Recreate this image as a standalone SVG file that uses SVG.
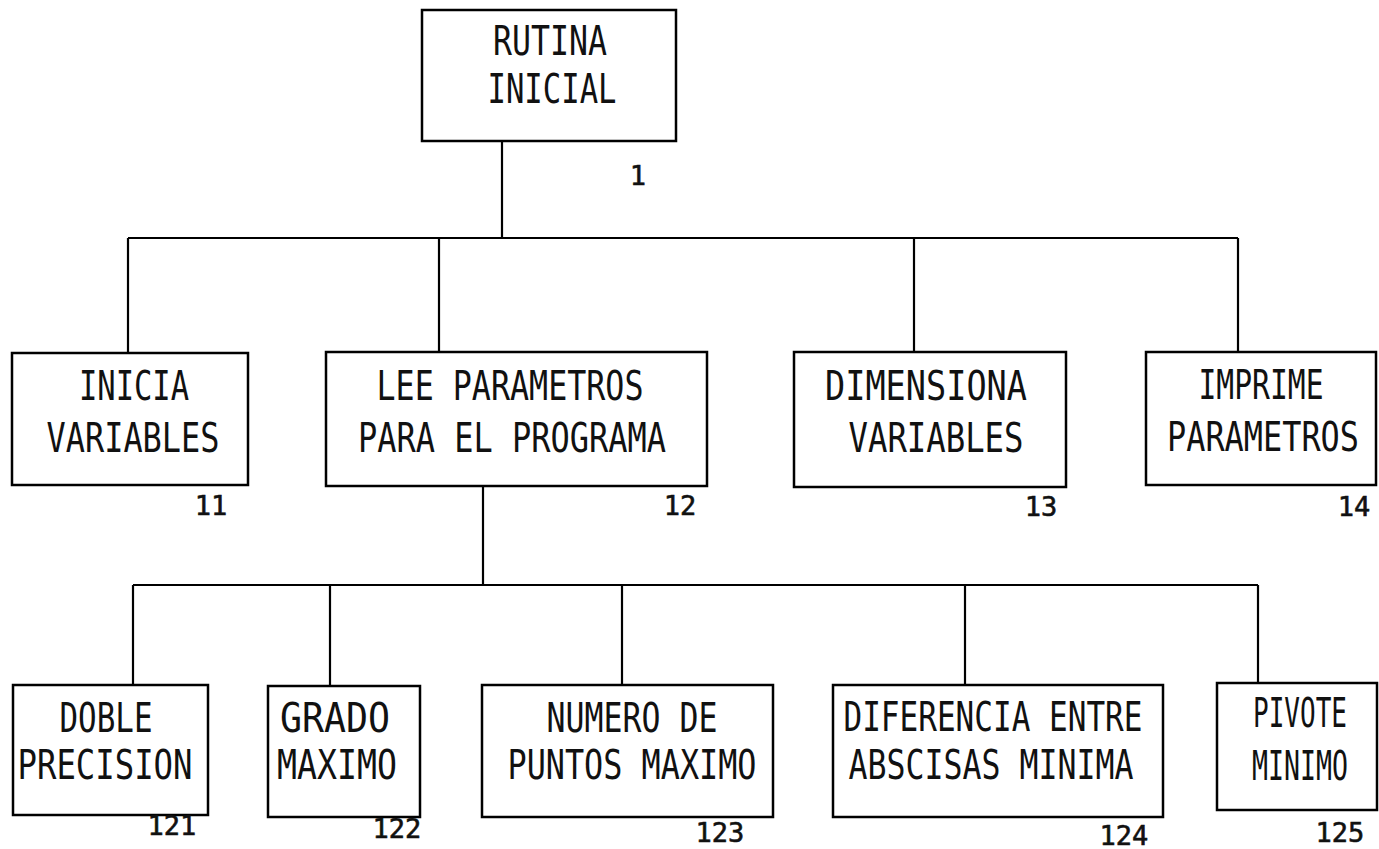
<svg xmlns="http://www.w3.org/2000/svg" width="1379" height="849" viewBox="0 0 1379 849">
<style>
.box{fill:none;stroke:#000;stroke-width:2.5}
.con line{stroke:#000;stroke-width:2.2}
.t{font-family:"DejaVu Sans Mono","Liberation Mono",monospace;font-size:41px;fill:#111;text-anchor:middle}
.n{font-family:"DejaVu Sans Mono","Liberation Mono",monospace;font-size:27px;fill:#111;stroke:#111;stroke-width:0.6;text-anchor:middle}
</style>
<rect width="1379" height="849" fill="#fff"/>
<g class="con" id="connectors">
<line x1="502" y1="141" x2="502" y2="238"/>
<line x1="128" y1="238" x2="1238" y2="238"/>
<line x1="128" y1="238" x2="128" y2="353"/>
<line x1="439" y1="238" x2="439" y2="352"/>
<line x1="914" y1="238" x2="914" y2="352"/>
<line x1="1238" y1="238" x2="1238" y2="352"/>
<line x1="483" y1="486" x2="483" y2="585"/>
<line x1="133" y1="585" x2="1258" y2="585"/>
<line x1="133" y1="585" x2="133" y2="685"/>
<line x1="330" y1="585" x2="330" y2="686"/>
<line x1="622" y1="585" x2="622" y2="685"/>
<line x1="965" y1="585" x2="965" y2="685"/>
<line x1="1258" y1="585" x2="1258" y2="683"/>
</g>
<g id="n1">
<rect class="box" x="422" y="10" width="254" height="131"/>
<text class="t" x="550" y="55" textLength="114" lengthAdjust="spacingAndGlyphs">RUTINA</text>
<text class="t" x="552" y="103" textLength="129" lengthAdjust="spacingAndGlyphs">INICIAL</text>
<text class="n" x="638" y="185">1</text>
</g>
<g id="n11">
<rect class="box" x="12" y="353" width="236" height="132"/>
<text class="t" x="134" y="400" textLength="110" lengthAdjust="spacingAndGlyphs">INICIA</text>
<text class="t" x="133" y="452" textLength="173" lengthAdjust="spacingAndGlyphs">VARIABLES</text>
<text class="n" x="211" y="515">11</text>
</g>
<g id="n12">
<rect class="box" x="326" y="352" width="381" height="134"/>
<text class="t" x="510" y="400" textLength="267" lengthAdjust="spacingAndGlyphs">LEE PARAMETROS</text>
<text class="t" x="512" y="452" textLength="308" lengthAdjust="spacingAndGlyphs">PARA EL PROGRAMA</text>
<text class="n" x="680" y="515">12</text>
</g>
<g id="n13">
<rect class="box" x="794" y="352" width="272" height="135"/>
<text class="t" x="926" y="400" textLength="202" lengthAdjust="spacingAndGlyphs">DIMENSIONA</text>
<text class="t" x="936" y="452" textLength="175" lengthAdjust="spacingAndGlyphs">VARIABLES</text>
<text class="n" x="1041" y="516">13</text>
</g>
<g id="n14">
<rect class="box" x="1146" y="352" width="230" height="133"/>
<text class="t" x="1261" y="399" textLength="125" lengthAdjust="spacingAndGlyphs">IMPRIME</text>
<text class="t" x="1263" y="451" textLength="192" lengthAdjust="spacingAndGlyphs">PARAMETROS</text>
<text class="n" x="1354" y="516">14</text>
</g>
<g id="n121">
<rect class="box" x="13" y="685" width="195" height="130"/>
<text class="t" x="106" y="732" textLength="93" lengthAdjust="spacingAndGlyphs">DOBLE</text>
<text class="t" x="105" y="779" textLength="175" lengthAdjust="spacingAndGlyphs">PRECISION</text>
<text class="n" x="172" y="835">121</text>
</g>
<g id="n122">
<rect class="box" x="268" y="686" width="152" height="131"/>
<text class="t" x="335" y="732" textLength="110" lengthAdjust="spacingAndGlyphs">GRADO</text>
<text class="t" x="337" y="779" textLength="120" lengthAdjust="spacingAndGlyphs">MAXIMO</text>
<text class="n" x="397" y="838">122</text>
</g>
<g id="n123">
<rect class="box" x="482" y="685" width="291" height="132"/>
<text class="t" x="632" y="732" textLength="171" lengthAdjust="spacingAndGlyphs">NUMERO DE</text>
<text class="t" x="632" y="779" textLength="249" lengthAdjust="spacingAndGlyphs">PUNTOS MAXIMO</text>
<text class="n" x="720" y="842">123</text>
</g>
<g id="n124">
<rect class="box" x="833" y="685" width="330" height="132"/>
<text class="t" x="993" y="731" textLength="299" lengthAdjust="spacingAndGlyphs">DIFERENCIA ENTRE</text>
<text class="t" x="991" y="779" textLength="285" lengthAdjust="spacingAndGlyphs">ABSCISAS MINIMA</text>
<text class="n" x="1124" y="845">124</text>
</g>
<g id="n125">
<rect class="box" x="1217" y="683" width="160" height="127"/>
<text class="t" x="1300" y="727" textLength="94" lengthAdjust="spacingAndGlyphs">PIVOTE</text>
<text class="t" x="1300" y="780" textLength="96" lengthAdjust="spacingAndGlyphs">MINIMO</text>
<text class="n" x="1340" y="842">125</text>
</g>
</svg>
